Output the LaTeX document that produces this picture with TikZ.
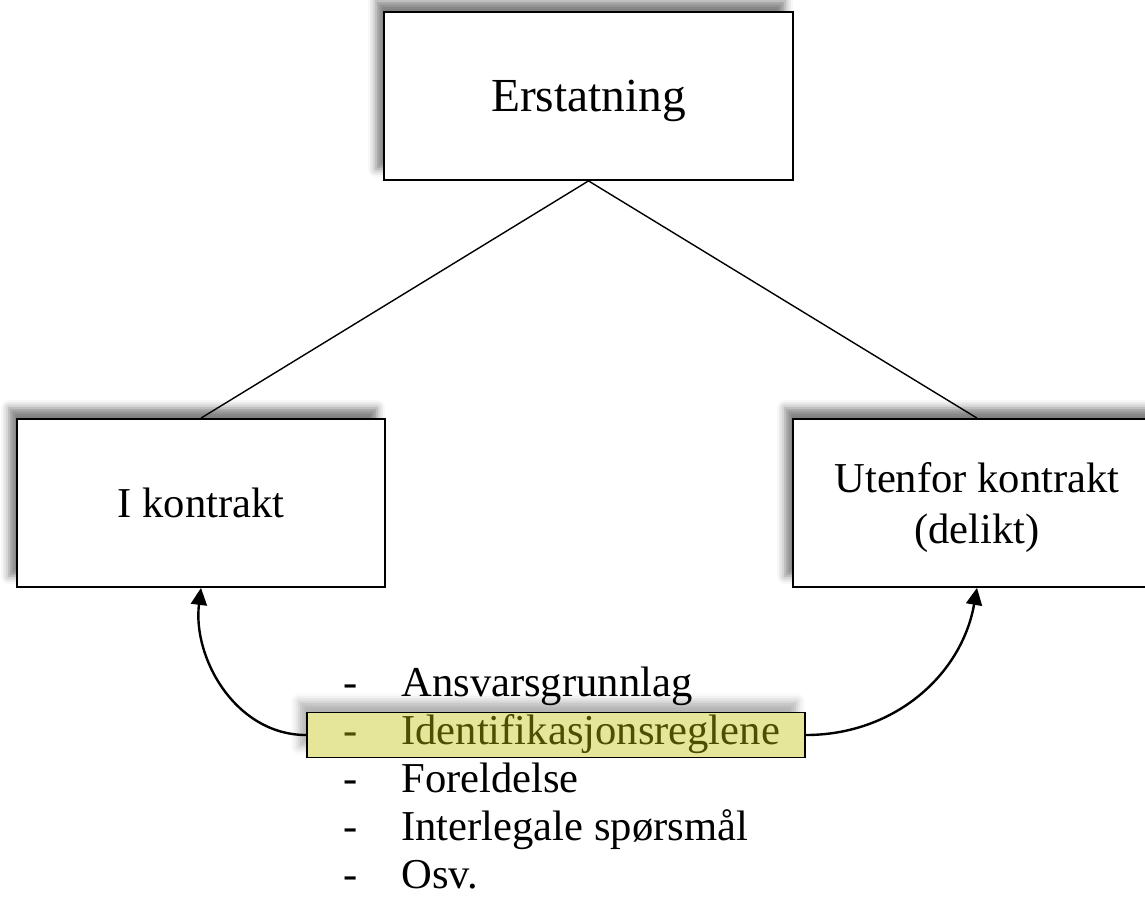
\documentclass[tikz,border=0pt]{standalone}
\usepackage{fontspec}
\setmainfont{Liberation Serif}
\usetikzlibrary{arrows.meta, positioning, shadows.blur}

\definecolor{hlfill}{RGB}{230,230,154}
\definecolor{hltext}{RGB}{78,78,0}
\newcommand{\dashitem}[1]{\makebox[29pt][l]{-}#1}

\begin{document}
\begin{tikzpicture}[
    x=0.5pt, y=0.5pt,
    box/.style={rectangle, draw, line width=0.9pt, fill=white, align=center, minimum width=184pt, minimum height=84pt, font=\fontsize{21.3pt}{25.6pt}\selectfont, blur shadow={shadow xshift=-4pt, shadow yshift=5.5pt, shadow blur radius=4pt, shadow opacity=50}},
    hlbox/.style={rectangle, draw, line width=0.8pt, fill=hlfill, inner sep=0pt, minimum width=249pt, minimum height=22.5pt, blur shadow={shadow xshift=-4pt, shadow yshift=5.5pt, shadow blur radius=4pt, shadow opacity=30}},
    item/.style={anchor=base west, inner sep=0pt, font=\fontsize{21.3pt}{25.6pt}\selectfont},
    link/.style={line width=0.7pt},
    arrow/.style={-{Triangle[length=8.5pt, width=8pt]}, line width=1.2pt}
]
\useasboundingbox (0,0) rectangle (1145,-901);

% Top box
\node[box, minimum width=204.5pt, text depth=0pt, font=\fontsize{23.7pt}{28pt}\selectfont] (erstatning) at (588.5,-96) {Erstatning};

% The two branches
\node[box] (kontrakt) at (201,-503) {I kontrakt};
\node[box, text depth=0pt] (delikt) at (977,-503) {Utenfor kontrakt\\(delikt)};

\draw[link] (erstatning.south) -- (kontrakt.north);
\draw[link] (erstatning.south) -- (delikt.north);

% Highlighted row behind the list
\node[hlbox] (hl) at (556,-735) {};

% List of topics
\node[item] (ansvar)    at (343,-696) {\dashitem{Ansvarsgrunnlag}};
\node[item, text=hltext] (ident) at (343,-744) {\dashitem{Identifikasjonsreglene}};
\node[item] (foreld)    at (343,-792) {\dashitem{Foreldelse}};
\node[item] (interleg)  at (343,-840) {\dashitem{Interlegale spørsmål}};
\node[item] (osv)       at (343,-888) {\dashitem{Osv.}};

% Curved arrows up to both boxes
\draw[arrow] (hl.west) to[out=180, in=-97] (kontrakt.south);
\draw[arrow] (hl.east) to[out=0, in=-100] (delikt.south);

\end{tikzpicture}
\end{document}
